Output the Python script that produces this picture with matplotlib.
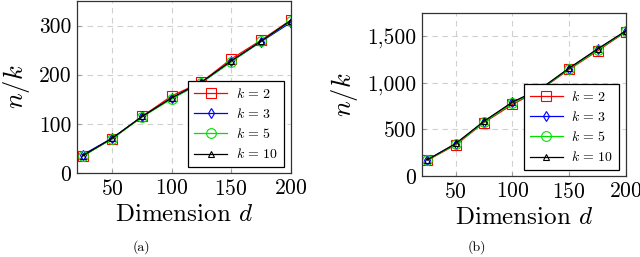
import matplotlib
matplotlib.use("Agg")
import matplotlib.pyplot as plt
from matplotlib.ticker import FuncFormatter

plt.rcParams["font.family"] = "serif"
plt.rcParams["font.serif"] = ["cmr10"]
plt.rcParams["mathtext.fontset"] = "cm"
plt.rcParams["axes.formatter.use_mathtext"] = True

# ── Data ──────────────────────────────────────────────────────────────────────
dims = [25, 50, 75, 100, 125, 150, 175, 200]

a_k2 = [35, 70, 115, 157, 185, 232, 270, 311]
a_k3 = [37, 71, 115, 152, 184, 227, 267, 306]
a_k5 = [34, 70, 114, 151, 184, 226, 268, 309]
a_k10 = [35, 71, 115, 153, 185, 228, 268, 310]

b_k2 = [170, 335, 575, 770, 930, 1145, 1345, 1550]
b_k3 = [175, 345, 585, 790, 935, 1155, 1360, 1555]
b_k5 = [172, 342, 580, 785, 935, 1150, 1355, 1555]
b_k10 = [175, 350, 590, 795, 940, 1160, 1365, 1560]

labels = ["$k\\,=\\,2$", "$k\\,=\\,3$", "$k\\,=\\,5$", "$k\\,=\\,10$"]
styles = [("red", "s", 7), ("blue", "d", 5), ("#00e000", "o", 7), ("black", "^", 5)]

fig = plt.figure(figsize=(6.4, 2.57), dpi=100)
ax_a = fig.add_axes([0.120, 0.327, 0.334, 0.669])
ax_b = fig.add_axes([0.659, 0.315, 0.319, 0.634])


def draw(ax, series, ylim, yticks, leg_anchor):
    for ys, lab, (c, m, ms) in zip(series, labels, styles):
        ax.plot(dims, ys, color=c, marker=m, markersize=ms, markerfacecolor="none",
                markeredgewidth=0.8, linewidth=0.9, label=lab)
    ax.set_xlim(20, 200)
    ax.set_ylim(*ylim)
    ax.set_xticks([50, 100, 150, 200])
    ax.set_yticks(yticks)
    ax.yaxis.set_major_formatter(FuncFormatter(lambda v, p: f"{int(v):,}"))
    ax.grid(True, color="#d0d0d0", linestyle=(0, (5, 4)), linewidth=0.8)
    ax.tick_params(direction="in", labelsize=15.5, length=3, color="#999999", pad=4)
    for s in ax.spines.values():
        s.set_linewidth(0.9)
        s.set_color("#333333")
    ax.set_xlabel("Dimension $d$", fontsize=18, labelpad=4)
    ax.set_ylabel("$n/k$", fontsize=19, labelpad=5)
    leg = ax.legend(loc="lower right", bbox_to_anchor=leg_anchor, fontsize=10,
                    frameon=True, fancybox=False, edgecolor="black", handlelength=2.4,
                    borderpad=0.4, labelspacing=0.45, handletextpad=0.6, borderaxespad=0,
                    framealpha=1)
    leg.get_frame().set_linewidth(0.9)


draw(ax_a, [a_k2, a_k3, a_k5, a_k10], (0, 350), [0, 100, 200, 300], (0.967, 0.035))
draw(ax_b, [b_k2, b_k3, b_k5, b_k10], (0, 1750), [0, 500, 1000, 1500], (0.966, 0.037))

fig.text(0.221, 0.025, "(a)", fontsize=10, ha="center")
fig.text(0.745, 0.025, "(b)", fontsize=10, ha="center")

fig.savefig("out.png", dpi=100)
